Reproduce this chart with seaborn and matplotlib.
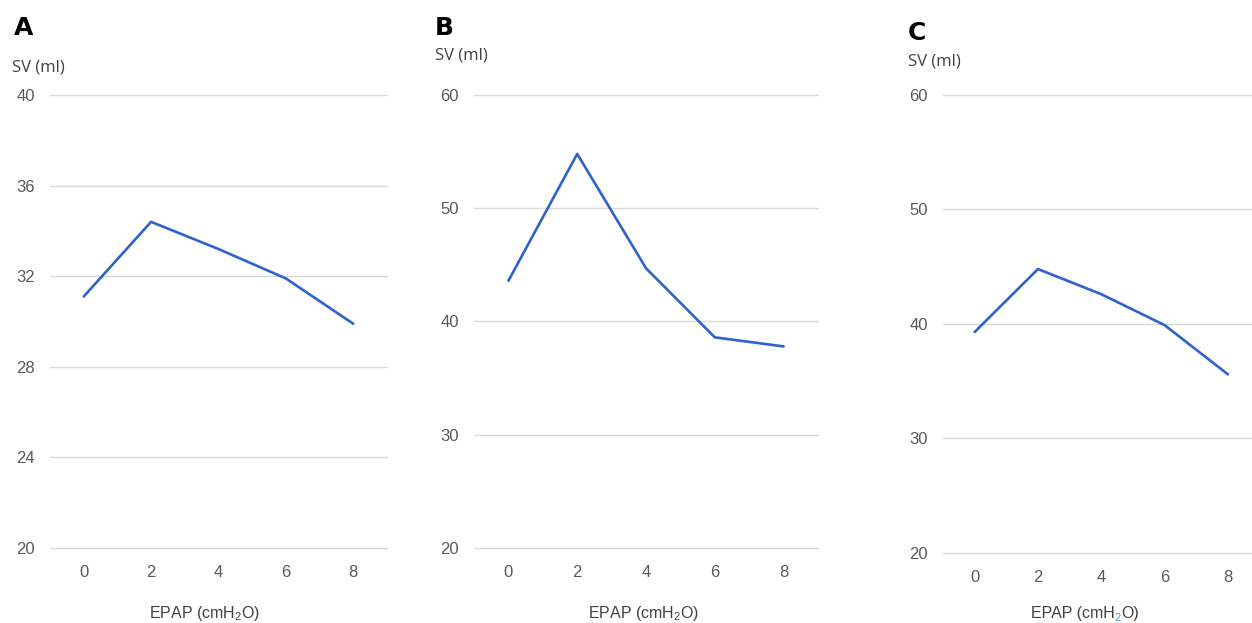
import matplotlib
matplotlib.use('Agg')
import matplotlib.pyplot as plt
import seaborn as sns
import pandas as pd

# Dados
epap = [0, 2, 4, 6, 8]
sv_a = [31.1, 34.4, 33.2, 31.9, 29.9]
sv_b = [43.6, 54.8, 44.7, 38.6, 37.8]
sv_c = [39.3, 44.8, 42.6, 39.9, 35.6]

letras = ['A', 'B', 'C']
yticks_a = [20, 24, 28, 32, 36, 40]
yticks_bc = [20, 30, 40, 50, 60]

sns.set_theme(style='white')
plt.rcParams['font.family'] = ['Liberation Sans', 'DejaVu Sans']

azul = '#2e62cc'
cinza_txt = '#595959'

fig = plt.figure(figsize=(12.52, 6.23), dpi=100)

# posicoes dos eixos (fracao da figura)
ax_a = fig.add_axes([0.0399, 0.1204, 0.2692, 0.7271])
ax_b = fig.add_axes([0.3786, 0.1204, 0.2748, 0.7271])
ax_c = fig.add_axes([0.7532, 0.1124, 0.2468, 0.7351])

paineis = [
    (ax_a, sv_a, yticks_a, (-1, 9)),
    (ax_b, sv_b, yticks_bc, (-1, 9)),
    (ax_c, sv_c, yticks_bc, (-1, 8.76)),
]

for ax, sv, yt, xl in paineis:
    df = pd.DataFrame({'epap': epap, 'sv': sv})
    sns.lineplot(data=df, x='epap', y='sv', ax=ax, color=azul, linewidth=1.9)
    ax.set_xlim(*xl)
    ax.set_ylim(yt[0], yt[-1])
    ax.set_yticks(yt)
    ax.set_xticks(epap)
    ax.set_xlabel('')
    ax.set_ylabel('')
    ax.grid(axis='y', color='#d9d9d9', linewidth=1)
    ax.grid(axis='x', visible=False)
    for g in ax.get_ygridlines():
        g.set_clip_on(False)
    for s in ax.spines.values():
        s.set_visible(False)
    ax.tick_params(axis='both', length=0, labelsize=12, colors=cinza_txt)
    ax.tick_params(axis='y', pad=11)
    ax.tick_params(axis='x', pad=12)

# letras dos paineis e rotulo do eixo y
pos_letra = [(14, 28), (435, 28), (908, 33)]
pos_sv = [(12, 68), (435, 55), (908, 62)]
for letra, (lx, ly), (sx, sy) in zip(letras, pos_letra, pos_sv):
    fig.text(lx / 1252, 1 - ly / 623, letra, fontsize=18, fontweight='black',
             family='DejaVu Sans', ha='left', va='center', color='black')
    fig.text(sx / 1252, 1 - sy / 623, 'SV (ml)', fontsize=12, family='Open Sans',
             ha='left', va='center', color='#404040')

# rotulo do eixo x (no painel C o subscrito aparece em azul)
base = 1 - 618 / 623
fig.text(204 / 1252, base, r'EPAP (cmH$_\mathregular{2}$O)', fontsize=11.5,
         ha='center', va='baseline', color='#404040')
fig.text(643 / 1252, base, r'EPAP (cmH$_\mathregular{2}$O)', fontsize=11.5,
         ha='center', va='baseline', color='#404040')

fig.canvas.draw()
r = fig.canvas.get_renderer()
t1 = fig.text(1031 / 1252, base, 'EPAP (cmH', fontsize=11.5,
              ha='left', va='baseline', color='#404040')
bb = t1.get_window_extent(r)
t2 = fig.text(bb.x1 / 1252, base - 3 / 623, '2', fontsize=8,
              ha='left', va='baseline', color='#4a90d9')
bb2 = t2.get_window_extent(r)
fig.text(bb2.x1 / 1252, base, 'O)', fontsize=11.5,
         ha='left', va='baseline', color='#404040')

plt.savefig('out.png', dpi=100)
